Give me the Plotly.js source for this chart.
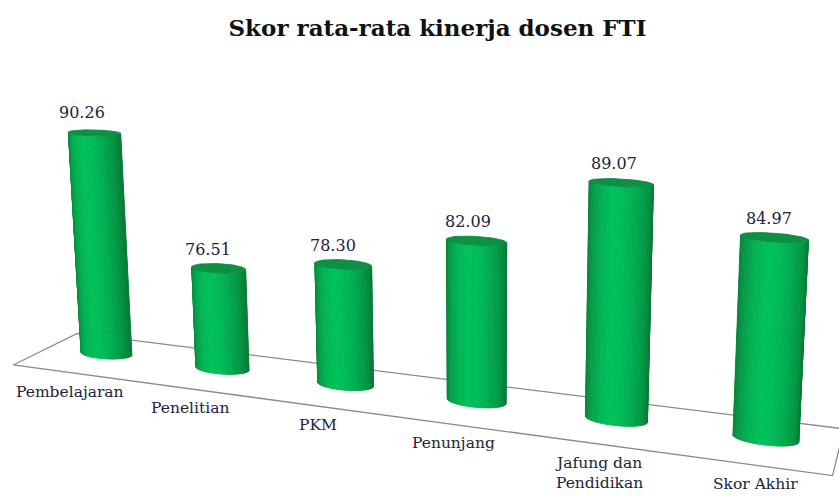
<!DOCTYPE html>
<html><head><meta charset="utf-8">
<script src="https://cdn.plot.ly/plotly-3.0.1.min.js"></script>
<style>html,body{margin:0;padding:0;background:#fff}#chart{width:839px;height:496px}</style>
</head><body><div id="chart"></div>
<script>
// ---------------- data ----------------
const categories = ["Pembelajaran", "Penelitian", "PKM", "Penunjang", "Jafung dan<br>Pendidikan", "Skor Akhir"];
const scores = [90.26, 76.51, 78.30, 82.09, 89.07, 84.97];
const valueLabels = ["90.26", "76.51", "78.30", "82.09", "89.07", "84.97"];
const axisMin = 65.3;            // value at floor level of the 3-D value axis

// ---------------- 3-D view (perspective projection onto the plotting axes) ----------------
const CAM = {cx: 476.5, cy: 401, ax: 135.2, ay: 26.3, bx: 17.4, by: -27,
             g: -0.0322, q: 0.0531, h: -1.475e-4, zs: 9.32, x0: 3};
const R = 0.213;                  // cylinder radius (category units)
const FLOOR_X = [-0.5, 5.47];
const FLOOR_Y = [-0.83, 0.61];
const NSTRIP = 40, NCAP = 60;

function proj(X, Y, v) {
  const Xp = X - CAM.x0;
  const Z = (v - axisMin) * CAM.zs;
  const w = 1 + CAM.g * Xp + CAM.q * Y + CAM.h * Z;
  return [CAM.cx + (CAM.ax * Xp + CAM.ay * Y) / w,
          CAM.cy + (CAM.bx * Xp + CAM.by * Y - Z) / w];
}

// colour ramp across the visible width of a cylinder (0 = left edge, 1 = right edge)
const RAMP = [[0.00, [11, 132, 61]], [0.06, [6, 154, 71]], [0.18, [2, 177, 83]], [0.35, [0, 193, 90]],
              [0.50, [0, 190, 88]], [0.70, [0, 173, 80]], [0.88, [0, 151, 68]], [1.00, [8, 124, 55]]];
function shade(u) {
  for (let k = 1; k < RAMP.length; k++) {
    if (u <= RAMP[k][0]) {
      const [u0, c0] = RAMP[k - 1], [u1, c1] = RAMP[k];
      const f = (u - u0) / (u1 - u0);
      const c = c0.map((a, j) => Math.round(a + (c1[j] - a) * f));
      return `rgb(${c[0]},${c[1]},${c[2]})`;
    }
  }
  return 'rgb(8,124,55)';
}

const traces = [];

// floor outline
const fx = [], fy = [];
[[FLOOR_X[0], FLOOR_Y[0]], [FLOOR_X[1], FLOOR_Y[0]], [FLOOR_X[1], FLOOR_Y[1]],
 [FLOOR_X[0], FLOOR_Y[1]], [FLOOR_X[0], FLOOR_Y[0]]].forEach(([X, Y]) => {
  const p = proj(X, Y, axisMin); fx.push(p[0]); fy.push(p[1]);
});
traces.push({type: 'scatter', mode: 'lines', x: fx, y: fy,
  line: {color: '#8a8a8a', width: 1.3}, hoverinfo: 'skip'});

// cylinder bodies, drawn as shaded vertical strips
const tR = Math.atan2(CAM.ay, CAM.ax), tL = tR + Math.PI;
for (let s = 0; s < NSTRIP; s++) {
  const t0 = tL + s * Math.PI / NSTRIP, t1 = t0 + Math.PI / NSTRIP;
  const xs = [], ys = [];
  scores.forEach((v, i) => {
    [[t0, axisMin], [t1, axisMin], [t1, v], [t0, v], [t0, axisMin]].forEach(([t, val]) => {
      const p = proj(i + R * Math.cos(t), R * Math.sin(t), val);
      xs.push(p[0]); ys.push(p[1]);
    });
    xs.push(null); ys.push(null);
  });
  const fmid = (s + 0.5) / NSTRIP;
  const c = shade((1 - Math.cos(Math.PI * fmid)) / 2);
  traces.push({type: 'scatter', mode: 'lines', x: xs, y: ys, fill: 'toself', fillcolor: c,
    line: {color: c, width: 0.8}, hoverinfo: 'skip'});
}

// cylinder tops
const cx = [], cy = [];
scores.forEach((v, i) => {
  for (let k = 0; k <= NCAP; k++) {
    const t = 2 * Math.PI * k / NCAP;
    const p = proj(i + R * Math.cos(t), R * Math.sin(t), v);
    cx.push(p[0]); cy.push(p[1]);
  }
  cx.push(null); cy.push(null);
});
traces.push({type: 'scatter', mode: 'lines', x: cx, y: cy, fill: 'toself', fillcolor: '#0e8f44',
  line: {color: '#0b8a41', width: 0.8}, hoverinfo: 'skip'});

// labels
const annotations = [];
scores.forEach((v, i) => {
  const pv = proj(i, -R, v);
  annotations.push({x: pv[0], y: pv[1], xref: 'x', yref: 'y', text: valueLabels[i], showarrow: false,
    xanchor: 'center', yanchor: 'middle', yshift: 23, xshift: -3,
    font: {family: 'DejaVu Serif', size: 16, color: '#22223a'}});
  const pc = proj(i, FLOOR_Y[0], axisMin);
  annotations.push({x: pc[0], y: pc[1], xref: 'x', yref: 'y', text: categories[i], showarrow: false,
    xanchor: 'center', yanchor: 'top', yshift: -9, borderpad: 0,
    font: {family: 'DejaVu Serif', size: 15.5, color: '#22223a'}});
});

const layout = {
  width: 839, height: 496, margin: {l: 0, r: 0, t: 0, b: 0},
  paper_bgcolor: '#ffffff', plot_bgcolor: 'rgba(0,0,0,0)', showlegend: false,
  title: {text: '<b>Skor rata-rata kinerja dosen FTI</b>', x: 437.5 / 839, xanchor: 'center',
    y: 1 - 28 / 496, yanchor: 'middle', font: {family: 'DejaVu Serif', size: 23, color: '#111111'}},
  xaxis: {range: [0, 839], visible: false, fixedrange: true},
  yaxis: {range: [496, 0], visible: false, fixedrange: true},
  annotations: annotations
};
Plotly.newPlot('chart', traces, layout, {displayModeBar: false, staticPlot: true});
</script></body></html>
